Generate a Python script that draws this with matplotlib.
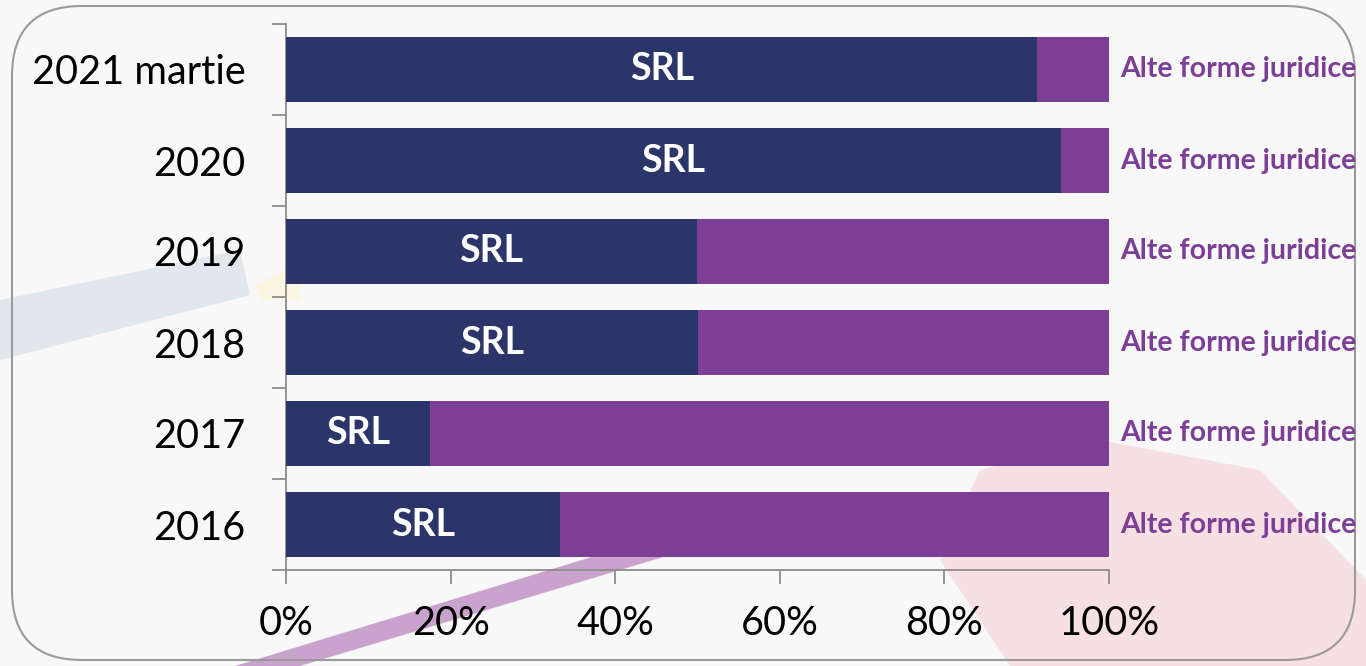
import numpy as np
import matplotlib.pyplot as plt
from matplotlib.patches import FancyBboxPatch, Polygon

plt.rcParams['font.family'] = ['Lato', 'DejaVu Sans']

ani = ['2016', '2017', '2018', '2019', '2020', '2021 martie']
srl = [33.3, 17.5, 50.0, 49.9, 94.2, 91.3]
alte = [100 - v for v in srl]
eticheta_srl = 'SRL'
eticheta_alte = 'Alte forme juridice'

culoare_srl = '#2B356A'
culoare_alte = '#7D3F96'

fig = plt.figure(figsize=(13.66, 6.66), dpi=100)
fig.patch.set_facecolor('#F8F8F8')


def px(puncte):
    # coordonate in pixeli -> fractiune din figura
    return [[x / 1366, 1 - y / 666] for x, y in puncte]


# fundal decorativ (slab), sub grafic
decor = [
    (px([(0, 300), (240, 250), (250, 295), (0, 360)]), '#E2E7EE'),
    (px([(255, 285), (300, 262), (300, 300), (262, 300)]), '#FBF6E2'),
    (px([(235, 666), (300, 666), (720, 540), (680, 530)]), '#C9A2CD'),
    (px([(1010, 666), (940, 560), (980, 470), (1100, 440), (1260, 470),
         (1366, 580), (1366, 666)]), '#F6E0E3'),
]
for pts, c in decor:
    fig.patches.append(Polygon(pts, closed=True, transform=fig.transFigure,
                               facecolor=c, edgecolor='none', zorder=-2))

# chenar rotunjit
fig.patches.append(FancyBboxPatch((0.12, 0.06), 13.43, 6.54,
                                  boxstyle='round,pad=0,rounding_size=0.7',
                                  transform=fig.dpi_scale_trans,
                                  facecolor='none', edgecolor='#9A9A9A',
                                  linewidth=1.5, zorder=-1))

ax = fig.add_axes([286 / 1366, 96 / 666, 823 / 1366, 546 / 666])
ax.patch.set_alpha(0)

y = np.arange(len(ani))
ax.barh(y, srl, height=0.714, color=culoare_srl, zorder=3)
ax.barh(y, alte, left=srl, height=0.714, color=culoare_alte, zorder=3)

for i in range(len(ani)):
    ax.text(srl[i] / 2, y[i], eticheta_srl, color='white', fontsize=27,
            fontweight='bold', ha='center', va='center', zorder=4)
    ax.text(101.3, y[i], eticheta_alte, color=culoare_alte, fontsize=20.5,
            fontweight='bold', ha='left', va='center', zorder=4,
            clip_on=False)

ax.set_xlim(0, 100)
ax.set_ylim(-0.5, len(ani) - 0.5)
ax.set_xticks(np.arange(0, 101, 20))
ax.set_xticklabels([f'{v}%' for v in range(0, 101, 20)])
ax.set_yticks(y)
ax.set_yticklabels(ani)
ax.set_yticks(np.arange(-0.5, len(ani), 1), minor=True)

for s in ['top', 'right']:
    ax.spines[s].set_visible(False)
for s in ['left', 'bottom']:
    ax.spines[s].set_color('#8C8C8C')
    ax.spines[s].set_linewidth(1.3)

ax.tick_params(axis='y', which='major', length=0, pad=29, labelsize=28.5)
ax.tick_params(axis='y', which='minor', length=10, width=1.3, color='#8C8C8C')
ax.tick_params(axis='x', which='major', length=10, width=1.3, color='#8C8C8C',
               pad=15, labelsize=28.5)

fig.savefig('out.png', dpi=100, facecolor=fig.get_facecolor())
